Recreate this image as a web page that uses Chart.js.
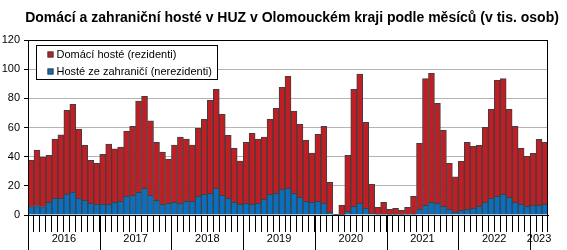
<!DOCTYPE html>
<html>
<head>
<meta charset="utf-8">
<script src="https://cdn.jsdelivr.net/npm/chart.js@4.4.0/dist/chart.umd.min.js"></script>
<style>
  body { margin: 0; background: #fff; }
  #wrap { width: 567px; height: 250px; }
</style>
</head>
<body>
<div id="wrap"><canvas id="c"></canvas></div>
<script>
// years on the axis and how many months each one has
const years = ['2016', '2017', '2018', '2019', '2020', '2021', '2022', '2023'];
const monthsInYear = [12, 12, 12, 12, 12, 12, 12, 3];

// guests from abroad (non-residents), thousands
const foreign = [
  5.7, 6.4, 5.7, 8.7, 11.4, 11.4, 14.4, 15.5, 11.4, 10.0, 8.0, 7.3,
  7.3, 7.3, 8.7, 9.4, 12.8, 13.5, 15.5, 18.3, 13.5, 10.0, 7.3, 8.0,
  8.7, 8.0, 9.4, 9.4, 12.8, 14.2, 14.9, 18.3, 13.5, 11.4, 8.7, 7.3,
  8.0, 7.3, 8.0, 10.7, 14.2, 14.9, 17.6, 18.3, 14.9, 12.1, 9.4, 8.7,
  9.4, 8.0, 1.8, 0.2, 0.1, 2.5, 5.9, 8.0, 4.6, 1.1, 0.5, 0.5,
  0.3, 0.3, 0.3, 0.5, 0.5, 3.9, 6.6, 8.7, 8.0, 5.9, 3.9, 1.8,
  3.2, 3.9, 4.6, 5.9, 8.7, 11.4, 12.8, 14.2, 12.1, 8.7, 7.3, 5.9,
  6.6, 6.6, 7.3
];

// domestic guests (residents), thousands
const domestic = [
  31.8, 38.2, 34.1, 32.2, 40.7, 43.5, 57.4, 60.4, 47.6, 37.8, 29.5, 28.1,
  34.3, 41.4, 36.6, 37.2, 44.8, 47.3, 62.7, 63.1, 51.0, 39.8, 35.9, 30.4,
  39.3, 45.5, 42.7, 38.6, 46.6, 51.4, 63.7, 67.9, 55.5, 43.2, 37.2, 29.7,
  41.8, 48.7, 44.1, 42.8, 51.4, 58.2, 69.9, 76.8, 56.4, 50.1, 41.8, 33.8,
  45.9, 52.8, 20.6, 0.3, 6.5, 38.4, 80.3, 88.7, 58.9, 19.9, 4.8, 8.2,
  3.6, 4.3, 2.9, 4.8, 12.3, 45.2, 86.9, 88.4, 68.6, 52.2, 31.5, 24.3,
  33.6, 45.9, 42.5, 41.9, 51.4, 61.1, 79.5, 79.3, 60.4, 52.1, 38.4, 34.3,
  35.7, 45.3, 42.5
];

const categories = [];
years.forEach((y, i) => {
  for (let m = 1; m <= monthsInYear[i]; m++) categories.push(m + '/' + y);
});

const TITLE = 'Domácí a zahraniční hosté v HUZ v Olomouckém kraji podle měsíců (v tis. osob)';
const FONT = '"Liberation Sans", Arial, sans-serif';
const RED = '#BE1E24';
const BLUE = '#0A6FBF';

/*title, frame, year ticks, year labels and legend*/
const extras = {
  id: 'extras',
  afterDraw(chart) {
    const ctx = chart.ctx;
    const area = chart.chartArea;
    const x = chart.scales.x;
    const H = chart.height;
    const step = x.getPixelForValue(1) - x.getPixelForValue(0);

    ctx.save();
    // title
    ctx.font = 'bold 14px ' + FONT;
    ctx.fillStyle = '#000';
    ctx.textAlign = 'center';
    ctx.textBaseline = 'middle';
    ctx.fillText(TITLE, 292, 18);

    ctx.strokeStyle = '#000';
    ctx.lineWidth = 1;
    ctx.strokeRect(Math.round(area.left) + 0.5, Math.round(area.top) + 0.5,
      Math.round(area.right - area.left) - 1, Math.round(area.bottom - area.top));

    // long ticks at year starts + year labels
    ctx.font = '11px ' + FONT;
    let start = 0;
    years.forEach((y, i) => {
      const x0 = x.getPixelForValue(start) - step / 2;
      const x1 = x.getPixelForValue(start + monthsInYear[i] - 1) + step / 2;
      const px = Math.round(x0) + 0.5;
      ctx.beginPath();
      ctx.moveTo(px, x.top);
      ctx.lineTo(px, H);
      ctx.stroke();
      ctx.fillText(y, (x0 + x1) / 2, x.top + 24);
      start += monthsInYear[i];
    });

    // legend box
    const bx = Math.round(area.left) + 8.5, by = Math.round(area.top) + 5.5;
    const bw = 181, bh = 34;
    ctx.fillStyle = '#fff';
    ctx.fillRect(bx, by, bw, bh);
    ctx.strokeRect(bx, by, bw, bh);
    const items = chart.data.datasets.slice().reverse();
    ctx.textAlign = 'left';
    items.forEach((ds, k) => {
      const cy = by + 9 + k * 17;
      ctx.fillStyle = ds.backgroundColor;
      ctx.fillRect(bx + 11, cy - 3, 6, 6);
      ctx.strokeStyle = '#404040';
      ctx.strokeRect(bx + 11 + 0.5, cy - 3 + 0.5, 5, 5);
      ctx.fillStyle = '#000';
      ctx.fillText(ds.label, bx + 20, cy + 0.5);
    });
    ctx.restore();
  }
};

new Chart(document.getElementById('c'), {
  type: 'bar',
  data: {
    labels: categories,
    datasets: [{
      label: 'Hosté ze zahraničí (nerezidenti)',
      data: foreign,
      backgroundColor: BLUE,
      borderColor: '#404040',
      borderWidth: 1
    }, {
      label: 'Domácí hosté (rezidenti)',
      data: domestic,
      backgroundColor: RED,
      borderColor: '#404040',
      borderWidth: 1
    }]
  },
  options: {
    responsive: true,
    maintainAspectRatio: false,
    animation: false,
    layout: { padding: { left: 0, right: 19, top: 40, bottom: 0 } },
    datasets: { bar: { categoryPercentage: 1, barPercentage: 1 } },
    plugins: {
      legend: { display: false },
      tooltip: { enabled: false },
      title: { display: false }
    },
    scales: {
      x: {
        stacked: true,
        offset: true,
        grid: {
          display: true,
          drawOnChartArea: false,
          offset: true,
          color: '#000',
          tickLength: 17
        },
        border: { display: true, color: '#000' },
        ticks: { display: false },
        afterFit: s => { s.height = 35; }
      },
      y: {
        stacked: true,
        min: 0,
        max: 120,
        ticks: {
          stepSize: 20,
          color: '#000',
          padding: 4,
          font: { family: FONT, size: 11 }
        },
        grid: {
          color: c => (c.tick && (c.tick.value === 0 || c.tick.value === 120)) ? '#000' : '#B4B4B4',
          tickColor: '#000',
          tickLength: 4
        },
        border: { display: true, color: '#000' },
        afterFit: s => { s.width = 28; }
      }
    }
  },
  plugins: [extras]
});
</script>
</body>
</html>
